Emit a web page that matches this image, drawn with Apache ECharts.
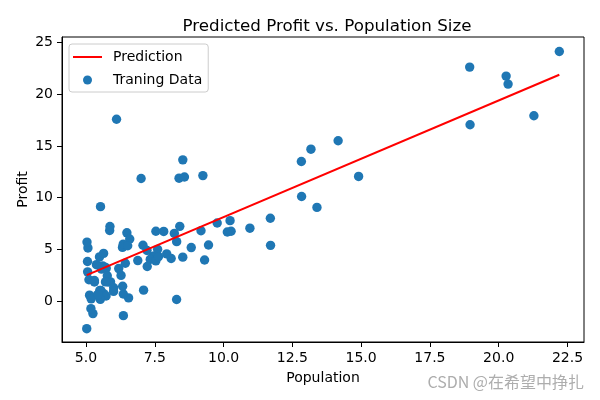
<!DOCTYPE html>
<html>
<head>
<meta charset="utf-8">
<script src="https://cdn.jsdelivr.net/npm/echarts@6/dist/echarts.min.js"></script>
<style>html,body{margin:0;padding:0;background:#fff}#c{width:600px;height:400px}</style>
</head>
<body>
<div id="c"></div>
<script>
var population = [6.1101,5.5277,8.5186,7.0032,5.8598,8.3829,7.4764,8.5781,6.4862,5.0546,5.7107,14.164,5.734,8.4084,5.6407,5.3794,6.3654,5.1301,6.4296,7.0708,6.1891,20.27,5.4901,6.3261,5.5649,18.945,12.828,10.957,13.176,22.203,5.2524,6.5894,9.2482,5.8918,8.2111,7.9334,8.0959,5.6063,12.836,6.3534,5.4069,6.8825,11.708,5.7737,7.8247,7.0931,5.0702,5.8014,11.7,5.5416,7.5402,5.3077,7.4239,7.6031,6.3328,6.3589,6.2742,5.6397,9.3102,9.4536,8.8254,5.1793,21.279,14.908,18.959,7.2182,8.2951,10.236,5.4994,20.341,10.136,7.3345,6.0062,7.2259,5.0269,6.5479,7.5386,5.0365,10.274,5.1077,5.7292,5.1884,6.3557,9.7687,6.5159,8.5172,9.1802,6.002,5.5204,5.0594,5.7077,7.6366,5.8707,5.3054,8.2934,13.394,5.4369];
var profit = [17.592,9.1302,13.662,11.854,6.8233,11.886,4.3483,12,6.5987,3.8166,3.2522,15.505,3.1551,7.2258,0.71618,3.5129,5.3048,0.56077,3.6518,5.3893,3.1386,21.767,4.263,5.1875,3.0825,22.638,13.501,7.0467,14.692,24.147,-1.22,5.9966,12.134,1.8495,6.5426,4.5623,4.1164,3.3928,10.117,5.4974,0.55657,3.9115,5.3854,2.4406,6.7318,1.0463,5.1337,1.844,8.0043,1.0179,6.7504,1.8396,4.2885,4.9981,1.4233,-1.4211,2.4756,4.6042,3.9624,5.4141,5.1694,-0.74279,17.929,12.054,17.054,4.8852,5.7442,7.7754,1.0173,20.992,6.6799,4.0259,1.2784,3.3411,-2.6807,0.29678,3.8845,5.7014,6.7526,2.0576,0.47953,0.20421,0.67861,7.5435,5.3436,4.2415,6.7981,0.92695,0.152,2.8214,1.8451,4.2959,7.2029,1.9869,0.14454,9.0551,0.61705];
var predX = [5.0269, 22.203];
var predY = [2.5, 21.9];
var xTicks = [5, 7.5, 10, 12.5, 15, 17.5, 20, 22.5];
var yTicks = [0, 5, 10, 15, 20, 25];

var font = 'DejaVu Sans';
var chart = echarts.init(document.getElementById('c'), null, {renderer: 'canvas'});
var scatterData = population.map(function (x, i) { return [x, profit[i]]; });
var lineData = predX.map(function (x, i) { return [x, predY[i]]; });

chart.setOption({
  animation: false,
  backgroundColor: '#fff',
  title: {
    text: 'Predicted Profit vs. Population Size',
    left: 322, top: 13, textAlign: 'center',
    textStyle: {fontFamily: font, fontSize: 16.7, fontWeight: 'normal', color: '#000'}
  },
  grid: {left: 62, right: 16, top: 37, bottom: 58, show: true, borderColor: '#000', borderWidth: 1, backgroundColor: 'transparent'},
  legend: {
    orient: 'vertical', left: 69, top: 44,
    padding: [6, 6, 5, 4],
    itemWidth: 29, itemHeight: 9, itemGap: 9,
    backgroundColor: '#fff', borderColor: '#cccccc', borderWidth: 1, borderRadius: 3,
    textStyle: {fontFamily: font, fontSize: 14, color: '#000', padding: [0, 0, 0, 6]},
    data: [
      {name: 'Prediction', icon: 'path://M0,0L29,0L29,2L0,2Z', itemStyle: {color: '#ff0000'}},
      {name: 'Traning Data', icon: 'circle'}
    ]
  },
  xAxis: {
    type: 'value', min: 4.128, max: 23.1,
    name: 'Population', nameLocation: 'middle', nameGap: 29,
    nameTextStyle: {fontFamily: font, fontSize: 14, color: '#000'},
    axisLine: {show: true, onZero: false, lineStyle: {color: '#000', width: 1}},
    axisTick: {show: true, length: 5, lineStyle: {color: '#000'}, customValues: xTicks},
    axisLabel: {customValues: xTicks, fontFamily: font, fontSize: 14, color: '#000', margin: 9,
      formatter: function (v) { return v.toFixed(1); }},
    splitLine: {show: false}
  },
  yAxis: {
    type: 'value', min: -3.97, max: 25.55,
    name: 'Profit', nameLocation: 'middle', nameGap: 32, nameMoveOverlap: false,
    nameTextStyle: {fontFamily: font, fontSize: 14, color: '#000'},
    axisLine: {show: true, onZero: false, lineStyle: {color: '#000', width: 1}},
    axisTick: {show: true, length: 5, lineStyle: {color: '#000'}, customValues: yTicks},
    axisLabel: {customValues: yTicks, fontFamily: font, fontSize: 14, color: '#000', margin: 9},
    splitLine: {show: false}
  },
  series: [
    {
      name: 'Prediction', type: 'line', data: lineData, symbol: 'none', z: 3,
      lineStyle: {color: '#ff0000', width: 2}, itemStyle: {color: '#ff0000'}
    },
    {
      name: 'Traning Data', type: 'scatter', data: scatterData, symbolSize: 9.4, z: 2,
      itemStyle: {color: '#1f77b4', opacity: 1}
    }
  ],
  graphic: [{
    type: 'text', right: 16, top: 374,
    style: {text: 'CSDN @在希望中挣扎', fill: '#adadad', fontSize: 16, fontFamily: 'Noto Sans CJK SC'}
  }]
});
</script>
</body>
</html>
